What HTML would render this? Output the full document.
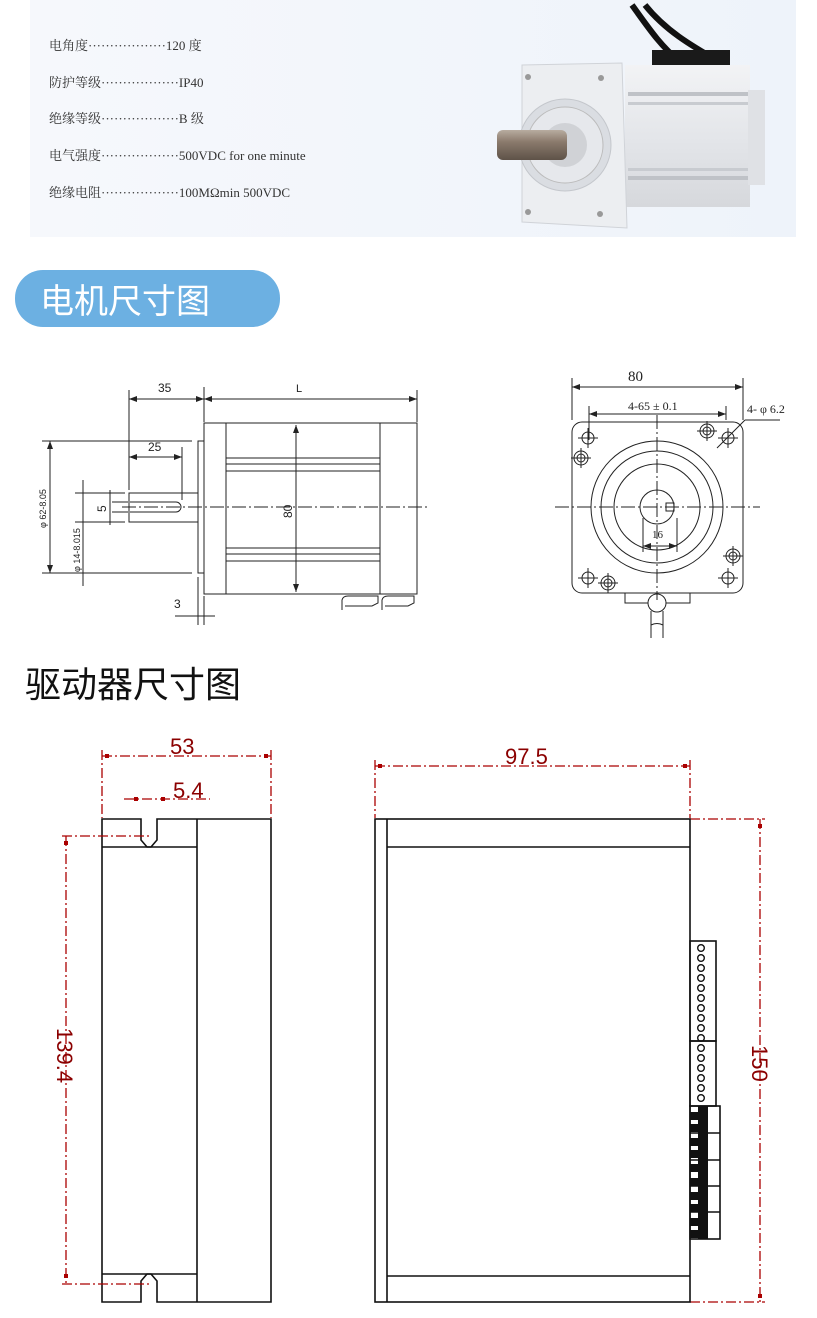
<!DOCTYPE html>
<html><head><meta charset="utf-8"><style>
html,body{margin:0;padding:0;background:#fff;}
svg{display:block;}
</style></head><body>
<svg width="817" height="1318" viewBox="0 0 817 1318" xmlns="http://www.w3.org/2000/svg">
<defs>
<linearGradient id="bg" x1="0" y1="0" x2="1" y2="0"><stop offset="0" stop-color="#f6f8fc"/><stop offset="1" stop-color="#eef3fa"/></linearGradient>
<linearGradient id="body" x1="0" y1="0" x2="0" y2="1"><stop offset="0" stop-color="#f2f3f5"/><stop offset="0.5" stop-color="#e4e6ea"/><stop offset="1" stop-color="#d6d8dc"/></linearGradient>
<linearGradient id="shaft" x1="0" y1="0" x2="0" y2="1"><stop offset="0" stop-color="#b8aca0"/><stop offset="0.4" stop-color="#8a7a6c"/><stop offset="1" stop-color="#5e5248"/></linearGradient>
<marker id="a" markerWidth="8" markerHeight="6" refX="8" refY="3" orient="auto-start-reverse" markerUnits="userSpaceOnUse"><path d="M0 0 L8 3 L0 6 Z" fill="#222"/></marker>
</defs>
<rect x="30" y="0" width="766" height="237" fill="url(#bg)"/>
<g font-family="Liberation Serif, Noto Serif CJK SC, serif" font-size="13" fill="#333">
<text x="49" y="50">电角度··················120 度</text>
<text x="49" y="87">防护等级··················IP40</text>
<text x="49" y="123">绝缘等级··················B  级</text>
<text x="49" y="160">电气强度··················500VDC for one minute</text>
<text x="49" y="197">绝缘电阻··················100MΩmin 500VDC</text>
</g>
<!-- motor photo -->
<path d="M632 5 C650 30 660 45 680 62" stroke="#111" stroke-width="6" fill="none"/>
<path d="M645 5 C665 30 690 45 720 62" stroke="#111" stroke-width="6" fill="none"/>
<rect x="652" y="50" width="78" height="15" fill="#1a1a1a"/>
<rect x="625" y="65" width="125" height="142" fill="url(#body)"/>
<rect x="628" y="92" width="122" height="4" fill="#bfc2c7"/>
<rect x="628" y="102" width="122" height="3" fill="#c8cbd0"/>
<rect x="628" y="168" width="122" height="3" fill="#c8cbd0"/>
<rect x="628" y="176" width="122" height="4" fill="#bfc2c7"/>
<rect x="748" y="90" width="17" height="95" fill="#dfe1e5"/>
<path d="M522 65 L622 63 L627 228 L522 222 Z" fill="#eceef1" stroke="#d0d3d8"/>
<circle cx="565" cy="145" r="46" fill="#dadde2" stroke="#c4c7cc"/>
<circle cx="565" cy="145" r="38" fill="#e6e8ec" stroke="#bbb"/>
<circle cx="565" cy="145" r="22" fill="#d0d2d6"/>
<rect x="497" y="130" width="70" height="30" rx="6" fill="url(#shaft)"/>
<circle cx="528" cy="77" r="3" fill="#999"/><circle cx="601" cy="78" r="3" fill="#999"/>
<circle cx="528" cy="212" r="3" fill="#999"/><circle cx="600" cy="214" r="3" fill="#999"/>
<!-- header pill -->
<rect x="15" y="270" width="265" height="57" rx="28" fill="#6cb0e2"/>
<text x="40" y="313" font-family="Noto Sans CJK SC, sans-serif" font-size="34" fill="#fff">电机尺寸图</text>
<!-- motor side view -->
<g stroke="#222" stroke-width="1" fill="none" font-family="Liberation Sans, sans-serif">
<line x1="129" y1="390" x2="129" y2="490"/><line x1="204" y1="387" x2="204" y2="422"/><line x1="417" y1="390" x2="417" y2="422"/>
<line x1="129" y1="399" x2="204" y2="399" marker-start="url(#a)" marker-end="url(#a)"/>
<line x1="204" y1="399" x2="417" y2="399" marker-start="url(#a)" marker-end="url(#a)"/>
<rect x="204" y="423" width="213" height="171"/>
<line x1="226" y1="423" x2="226" y2="594"/><line x1="380" y1="423" x2="380" y2="594"/>
<rect x="198" y="441" width="6" height="132"/>
<line x1="226" y1="458" x2="380" y2="458"/><line x1="226" y1="464" x2="380" y2="464"/><line x1="226" y1="471" x2="380" y2="471"/>
<line x1="226" y1="548" x2="380" y2="548"/><line x1="226" y1="554" x2="380" y2="554"/><line x1="226" y1="561" x2="380" y2="561"/>
<line x1="296" y1="425" x2="296" y2="592" marker-start="url(#a)" marker-end="url(#a)"/>
<line x1="122" y1="507" x2="430" y2="507" stroke-dasharray="14,3,2,3"/>
<rect x="129" y="493" width="69" height="29"/>
<path d="M130 502 H176 A5 5 0 0 1 176 512 H130"/>
<line x1="129" y1="457" x2="182" y2="457" marker-start="url(#a)" marker-end="url(#a)"/><line x1="182" y1="447" x2="182" y2="500"/>
<line x1="42" y1="441" x2="192" y2="441"/><line x1="42" y1="573" x2="192" y2="573"/>
<line x1="50" y1="441" x2="50" y2="573" marker-start="url(#a)" marker-end="url(#a)"/>
<line x1="83" y1="480" x2="83" y2="586"/><line x1="75" y1="493" x2="125" y2="493"/><line x1="75" y1="522" x2="125" y2="522"/>
<line x1="110" y1="490" x2="110" y2="525"/><line x1="112" y1="502" x2="128" y2="502"/><line x1="112" y1="512" x2="128" y2="512"/>
<line x1="198" y1="577" x2="198" y2="625"/><line x1="204" y1="596" x2="204" y2="625"/><line x1="175" y1="616" x2="215" y2="616"/>
<path d="M342 610 V600 Q343 596 348 596 H378 V603 L372 606 H345 M382 610 V600 Q383 596 388 596 H414 V603 L408 606 H385"/>
</g>
<g fill="#222" font-family="Liberation Sans, sans-serif" font-size="12">
<text x="158" y="392">35</text><text x="296" y="392" font-size="11">L</text><text x="148" y="451">25</text>
<text transform="translate(46,528) rotate(-90)" font-size="9">φ 62-8.05</text>
<text transform="translate(80,572) rotate(-90)" font-size="9">φ 14-8.015</text>
<text transform="translate(106,512) rotate(-90)">5</text>
<text transform="translate(292,518) rotate(-90)">80</text>
<text x="174" y="608">3</text>
</g>
<!-- front view -->
<g stroke="#222" stroke-width="1" fill="none">
<line x1="572" y1="378" x2="572" y2="420"/><line x1="743" y1="378" x2="743" y2="420"/>
<line x1="572" y1="387" x2="743" y2="387" marker-start="url(#a)" marker-end="url(#a)"/>
<line x1="589" y1="406" x2="589" y2="440"/><line x1="726" y1="406" x2="726" y2="420"/>
<line x1="589" y1="414" x2="726" y2="414" marker-start="url(#a)" marker-end="url(#a)"/>
<rect x="572" y="422" width="171" height="171" rx="10"/>
<circle cx="657" cy="507" r="66"/><circle cx="657" cy="507" r="56"/><circle cx="657" cy="507" r="43"/>
<circle cx="657" cy="507" r="17"/><rect x="666" y="503" width="8" height="8"/>
<line x1="555" y1="507" x2="760" y2="507" stroke-dasharray="14,3,2,3"/>
<line x1="657" y1="415" x2="657" y2="600" stroke-dasharray="14,3,2,3"/>
<line x1="643" y1="518" x2="643" y2="552"/><line x1="677" y1="518" x2="677" y2="552"/><line x1="643" y1="546" x2="677" y2="546" marker-start="url(#a)" marker-end="url(#a)"/>
<line x1="717" y1="448" x2="745" y2="420"/><line x1="745" y1="420" x2="780" y2="420"/>
<g>
<circle cx="588" cy="438" r="6"/><circle cx="581" cy="458" r="7"/><circle cx="581" cy="458" r="4"/>
<circle cx="707" cy="431" r="7"/><circle cx="707" cy="431" r="4"/><circle cx="728" cy="438" r="6"/>
<circle cx="588" cy="578" r="6"/><circle cx="608" cy="583" r="7"/><circle cx="608" cy="583" r="4"/>
<circle cx="733" cy="556" r="7"/><circle cx="733" cy="556" r="4"/><circle cx="728" cy="578" r="6"/>
</g>
<path d="M578 438 h20 M588 428 v20 M571 458 h20 M581 448 v20 M697 431 h20 M707 421 v20 M718 438 h20 M728 428 v20 M578 578 h20 M588 568 v20 M598 583 h20 M608 573 v20 M723 556 h20 M733 546 v20 M718 578 h20 M728 568 v20"/>
<path d="M625 593 V603 H648 M666 603 H690 V593"/>
<circle cx="657" cy="603" r="9"/>
<path d="M651 611 V638 M663 611 V638 M651 625 q6 -3 12 0"/>
</g>
<g fill="#222" font-family="Liberation Serif, serif">
<text x="628" y="381" font-size="15">80</text>
<text x="628" y="410" font-size="12">4-65 ± 0.1</text>
<text x="747" y="413" font-size="12">4- φ 6.2</text>
<text x="652" y="538" font-size="11">16</text>
</g>
<text x="25" y="697" font-family="Noto Sans CJK SC, sans-serif" font-size="36" fill="#111">驱动器尺寸图</text>
<!-- driver left -->
<g stroke="#111" stroke-width="1.6" fill="none">
<path d="M102 819 H141 V840 L147 847 H151 L157 840 V819 H271 V1302 H157 V1281 L151 1274 H147 L141 1281 V1302 H102 Z"/>
<line x1="197" y1="819" x2="197" y2="1302"/>
<line x1="102" y1="847" x2="197" y2="847"/><line x1="102" y1="1274" x2="197" y2="1274"/>
</g>
<g stroke="#a00" stroke-width="1.3" fill="none" stroke-dasharray="10,3,2,3">
<line x1="102" y1="750" x2="102" y2="818"/><line x1="271" y1="750" x2="271" y2="818"/>
<line x1="102" y1="756" x2="271" y2="756"/>
<line x1="124" y1="799" x2="210" y2="799"/>
<line x1="62" y1="836" x2="150" y2="836"/><line x1="62" y1="1284" x2="150" y2="1284"/>
<line x1="66" y1="836" x2="66" y2="1284"/>
<line x1="375" y1="760" x2="375" y2="818"/><line x1="690" y1="760" x2="690" y2="818"/>
<line x1="375" y1="766" x2="690" y2="766"/>
<line x1="690" y1="819" x2="765" y2="819"/><line x1="690" y1="1302" x2="765" y2="1302"/>
<line x1="760" y1="819" x2="760" y2="1302"/>
</g>
<g fill="#a00"><rect x="105" y="754" width="4" height="4"/><rect x="264" y="754" width="4" height="4"/><rect x="134" y="797" width="4" height="4"/><rect x="161" y="797" width="4" height="4"/><rect x="64" y="841" width="4" height="4"/><rect x="64" y="1274" width="4" height="4"/><rect x="378" y="764" width="4" height="4"/><rect x="683" y="764" width="4" height="4"/><rect x="758" y="824" width="4" height="4"/><rect x="758" y="1294" width="4" height="4"/></g>
<g fill="#8b0000" font-family="Liberation Sans, sans-serif" font-size="22">
<text x="170" y="754">53</text><text x="173" y="798">5.4</text><text x="505" y="764">97.5</text>
<text transform="translate(57,1028) rotate(90)">139.4</text>
<text transform="translate(752,1045) rotate(90)">150</text>
</g>
<!-- driver right -->
<g stroke="#111" stroke-width="1.6" fill="none">
<rect x="375" y="819" width="315" height="483"/>
<line x1="387" y1="819" x2="387" y2="1302"/>
<line x1="387" y1="847" x2="690" y2="847"/><line x1="387" y1="1276" x2="690" y2="1276"/>
<rect x="690" y="941" width="26" height="100"/><rect x="690" y="1041" width="26" height="65"/>
<rect x="690" y="1106" width="30" height="133"/>
<line x1="690" y1="1133" x2="720" y2="1133"/><line x1="690" y1="1160" x2="720" y2="1160"/><line x1="690" y1="1186" x2="720" y2="1186"/><line x1="690" y1="1212" x2="720" y2="1212"/>
</g>
<g stroke="#111" stroke-width="1.4" fill="none">
<circle cx="701" cy="948" r="3.3"/><circle cx="701" cy="958" r="3.3"/><circle cx="701" cy="968" r="3.3"/><circle cx="701" cy="978" r="3.3"/><circle cx="701" cy="988" r="3.3"/><circle cx="701" cy="998" r="3.3"/><circle cx="701" cy="1008" r="3.3"/><circle cx="701" cy="1018" r="3.3"/><circle cx="701" cy="1028" r="3.3"/><circle cx="701" cy="1038" r="3.3"/><circle cx="701" cy="1048" r="3.3"/><circle cx="701" cy="1058" r="3.3"/><circle cx="701" cy="1068" r="3.3"/><circle cx="701" cy="1078" r="3.3"/><circle cx="701" cy="1088" r="3.3"/><circle cx="701" cy="1098" r="3.3"/>
</g>
<g fill="#111">
<rect x="698" y="1106" width="10" height="133"/>
<rect x="690" y="1112" width="8" height="8"/><rect x="690" y="1124" width="8" height="8"/><rect x="690" y="1138" width="8" height="8"/><rect x="690" y="1150" width="8" height="8"/><rect x="690" y="1164" width="8" height="8"/><rect x="690" y="1178" width="8" height="8"/><rect x="690" y="1192" width="8" height="8"/><rect x="690" y="1204" width="8" height="8"/><rect x="690" y="1218" width="8" height="8"/><rect x="690" y="1230" width="8" height="8"/>
</g>
</svg>
</body></html>
